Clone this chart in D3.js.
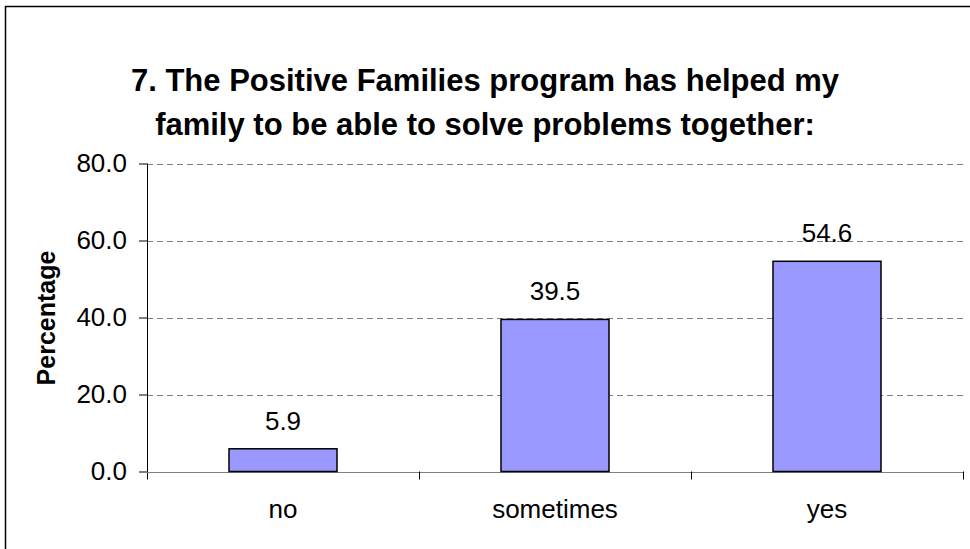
<!DOCTYPE html>
<html>
<head>
<meta charset="utf-8">
<script src="https://cdn.jsdelivr.net/npm/d3@7"></script>
<style>
  html, body { margin: 0; padding: 0; background: #fff; }
  svg { display: block; font-family: "Liberation Sans", Arial, sans-serif; }
</style>
</head>
<body>
<svg id="chart" width="970" height="549"></svg>
<script>
// Survey responses (percent of families)
const categories = ["no", "sometimes", "yes"];
const percentages = [5.9, 39.5, 54.6];
const yTicks = [0, 20, 40, 60, 80];
const titleLines = [
  "7. The Positive Families program has helped my",
  "family to be able to solve problems together:"
];
const yAxisTitle = "Percentage";

const svg = d3.select("#chart");
const W = 970, H = 549;
const FONT = "Liberation Sans, Arial, sans-serif";

// Outer frame
svg.append("rect")
  .attr("x", 5.5).attr("y", 6.5)
  .attr("width", W).attr("height", H)
  .attr("fill", "#fff").attr("stroke", "#000").attr("stroke-width", 1.5);

const plot = { left: 147, right: 963, top: 163.5, bottom: 471.5 };

const x = d3.scaleBand().domain(categories).range([plot.left, plot.right]).paddingInner(0).paddingOuter(0);
const y = d3.scaleLinear().domain([0, 80]).range([plot.bottom, plot.top]);

// Title
svg.append("g").selectAll("text").data(titleLines).join("text")
  .attr("x", 485).attr("y", (d, i) => 91 + i * 44)
  .attr("text-anchor", "middle")
  .attr("font-size", 31).attr("font-weight", "bold")
  .text(d => d);

// Horizontal dashed gridlines
svg.append("g").selectAll("line").data(yTicks.filter(t => t > 0)).join("line")
  .attr("x1", plot.left).attr("x2", plot.right)
  .attr("y1", d => Math.round(y(d)) + 0.5).attr("y2", d => Math.round(y(d)) + 0.5)
  .attr("stroke", "#808080").attr("stroke-width", 1)
  .attr("stroke-dasharray", "6,4");

// Y axis
const yAxis = d3.axisLeft(y).tickValues(yTicks).tickFormat(d3.format(".1f")).tickSize(8).tickPadding(12);
const gy = svg.append("g").attr("transform", `translate(${plot.left},0)`).call(yAxis);
gy.select(".domain").remove();
gy.selectAll(".tick line").attr("stroke", "#000");
gy.selectAll(".tick text").attr("font-size", 26).attr("font-family", FONT).attr("fill", "#000");
svg.append("line")
  .attr("x1", plot.left + 0.5).attr("x2", plot.left + 0.5)
  .attr("y1", plot.top).attr("y2", plot.bottom + 8)
  .attr("stroke", "#000");

// X axis with ticks at category boundaries
svg.append("line")
  .attr("x1", plot.left).attr("x2", plot.right)
  .attr("y1", Math.round(plot.bottom) + 0.5).attr("y2", Math.round(plot.bottom) + 0.5)
  .attr("stroke", "#808080").attr("stroke-width", 1.2);
const boundaries = categories.map(c => x(c)).concat([x.range()[1]]).slice(1);
svg.append("g").selectAll("line").data(boundaries).join("line")
  .attr("x1", d => Math.round(d) + 0.5).attr("x2", d => Math.round(d) + 0.5)
  .attr("y1", plot.bottom).attr("y2", plot.bottom + 8)
  .attr("stroke", "#000");

svg.append("g").selectAll("text").data(categories).join("text")
  .attr("x", d => x(d) + x.bandwidth() / 2)
  .attr("y", 518)
  .attr("text-anchor", "middle").attr("font-size", 26)
  .text(d => d);

// Bars
const barW = 108;
svg.append("g").selectAll("rect").data(categories).join("rect")
  .attr("x", d => x(d) + x.bandwidth() / 2 - barW / 2)
  .attr("y", (d, i) => y(percentages[i]))
  .attr("width", barW)
  .attr("height", (d, i) => y(0) - y(percentages[i]))
  .attr("fill", "#9999FF").attr("stroke", "#000").attr("stroke-width", 1.5);

// Value labels
svg.append("g").selectAll("text").data(categories).join("text")
  .attr("x", d => x(d) + x.bandwidth() / 2)
  .attr("y", (d, i) => y(percentages[i]) - 19)
  .attr("text-anchor", "middle").attr("font-size", 26)
  .text((d, i) => d3.format(".1f")(percentages[i]));

// Y axis title
svg.append("text")
  .attr("transform", "translate(55,318) rotate(-90)")
  .attr("text-anchor", "middle")
  .attr("font-size", 25).attr("font-weight", "bold")
  .text(yAxisTitle);
</script>
</body>
</html>
